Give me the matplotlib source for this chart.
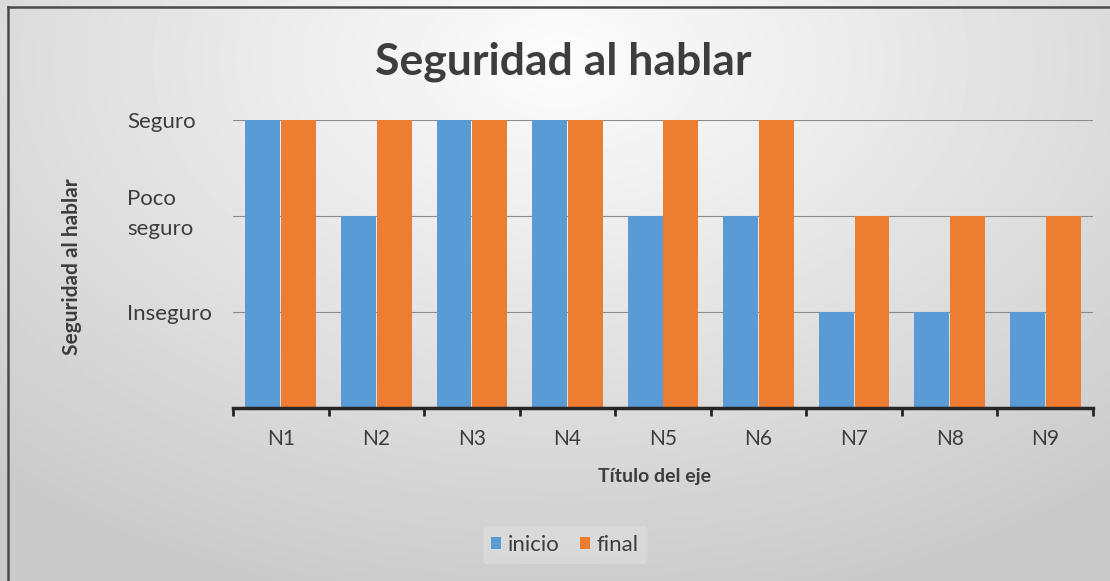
import numpy as np
import matplotlib
matplotlib.use("Agg")
import matplotlib.pyplot as plt
from matplotlib.lines import Line2D
from matplotlib.transforms import ScaledTranslation

# Data
categories = ["N1", "N2", "N3", "N4", "N5", "N6", "N7", "N8", "N9"]
inicio = [3, 2, 3, 3, 2, 2, 1, 1, 1]
final = [3, 3, 3, 3, 3, 3, 2, 2, 2]
level_values = [1, 2, 3]
level_labels = ["Inseguro", "Poco\nseguro", "Seguro"]

BLUE = "#5B9BD5"
ORANGE = "#ED7D31"
TEXT = "#3d3d3d"
FONT = ["Lato", "DejaVu Sans"]

plt.rcParams["font.family"] = FONT

fig = plt.figure(figsize=(11.10, 5.81), dpi=100)

# radial grey background like the Excel chart area
bg = fig.add_axes([0, 0, 1, 1], zorder=-10)
yy, xx = np.mgrid[0:581, 0:1110]
d = np.sqrt(((xx - 560) / 1110) ** 2 + ((yy - 60) / 581 * 0.8) ** 2)
shade = np.clip(0.99 - 0.26 * d, 0.79, 1.0)
bg.imshow(shade, cmap="gray", vmin=0, vmax=1, aspect="auto", extent=[0, 1, 0, 1])
# frame visible only on the top and left (image is cropped)
bg.add_line(Line2D([8 / 1110, 8 / 1110], [0, 1 - 7 / 581], color="#4a4a4a", linewidth=1.8))
bg.add_line(Line2D([8 / 1110, 1], [1 - 7 / 581, 1 - 7 / 581], color="#4a4a4a", linewidth=1.8))
bg.set_xlim(0, 1)
bg.set_ylim(0, 1)
bg.axis("off")

ax = fig.add_axes([233 / 1110, 1 - 408 / 581, (1093 - 233) / 1110, (408 - 120) / 581])
ax.set_facecolor("none")

x = np.arange(len(categories))
w = 0.365
ax.bar(x - w / 2 - 0.005, inicio, w, color=BLUE, label="inicio", zorder=3)
ax.bar(x + w / 2 + 0.005, final, w, color=ORANGE, label="final", zorder=3)

ax.set_xlim(-0.5, len(categories) - 0.5)
ax.set_ylim(0, 3)

for s in ["top", "right", "left"]:
    ax.spines[s].set_visible(False)
ax.spines["bottom"].set_color("#262626")
ax.spines["bottom"].set_linewidth(2.5)
ax.spines["bottom"].set_zorder(4)

# y axis: text levels, left aligned
ax.set_yticks(level_values)
ax.set_yticklabels(level_labels, fontsize=16, color=TEXT, ha="left", linespacing=1.6)
ax.tick_params(axis="y", length=0, pad=76)
ax.grid(axis="y", color="#8c8c8c", linewidth=0.8, zorder=0)
# the two-line label sits a little above its gridline
poco = ax.get_yticklabels()[1]
poco.set_transform(poco.get_transform() + ScaledTranslation(0, 9 / 100, fig.dpi_scale_trans))

# x axis: ticks at category boundaries, labels centred
ax.set_xticks(np.arange(-0.5, len(categories), 1.0))
ax.set_xticklabels([])
ax.tick_params(axis="x", which="major", length=6, width=2, color="#262626", direction="out")
ax.set_xticks(x, minor=True)
ax.set_xticklabels(categories, minor=True, fontsize=15, color=TEXT)
ax.tick_params(axis="x", which="minor", length=0, pad=15)

ax.set_xlabel("Título del eje", fontsize=14, fontweight="bold", color=TEXT)
ax.set_ylabel("Seguridad al hablar", fontsize=15, fontweight="bold", color=TEXT)
ax.xaxis.set_label_coords(0.49, -(468 - 408) / 288)
ax.yaxis.set_label_coords(-(233 - 82) / 860, 0.49)

fig.text(563 / 1110, 1 - 62 / 581, "Seguridad al hablar", fontsize=32, fontweight="bold",
         color=TEXT, ha="center", va="center")

leg = fig.legend(loc="center", bbox_to_anchor=(565 / 1110, 1 - 545 / 581), ncol=2,
                 fontsize=16, frameon=True, handlelength=0.45, handleheight=0.45,
                 handletextpad=0.3, columnspacing=0.9, labelcolor=TEXT)
leg.get_frame().set_facecolor("white")
leg.get_frame().set_alpha(0.2)
leg.get_frame().set_edgecolor("none")

fig.savefig("out.png", dpi=100)
